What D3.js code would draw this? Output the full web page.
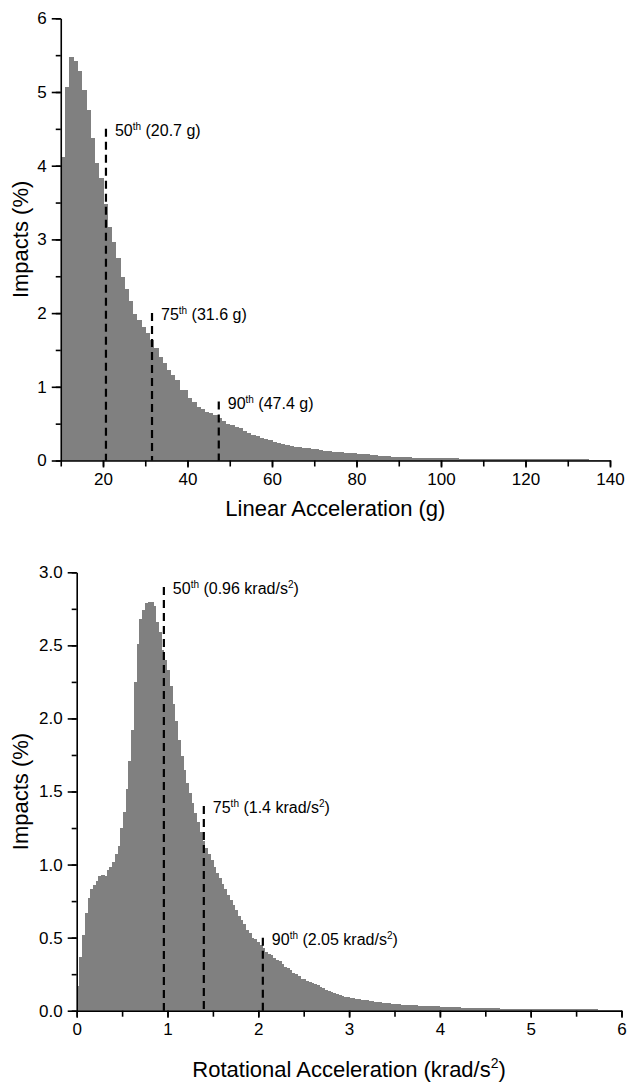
<!DOCTYPE html>
<html>
<head>
<meta charset="utf-8">
<script src="https://cdn.jsdelivr.net/npm/d3@7"></script>
<style>
	body { margin: 0; background: #fff; }
	svg { display: block; font-family: 'Liberation Sans', Arial, sans-serif; }
</style>
</head>
<body>
<div id="chart"></div>
<script>
const w = 628;
const h = 1084;

// linear acceleration: % of impacts per 1 g bin, first bin starts at 10 g
const linearBinStart = 10;
const linearBinWidth = 1;
const linearPct = [
	4.12, 5.07, 5.47, 5.42, 5.28, 5.03, 4.76, 4.38, 4.04, 3.83,
	3.48, 3.17, 2.97, 2.75, 2.49, 2.33, 2.16, 1.99, 1.91, 1.81,
	1.73, 1.63, 1.52, 1.40, 1.32, 1.23, 1.16, 1.09, 0.96, 0.95,
	0.85, 0.80, 0.73, 0.70, 0.66, 0.64, 0.62, 0.58, 0.53, 0.50,
	0.48, 0.46, 0.44, 0.40, 0.37, 0.35, 0.33, 0.30, 0.29, 0.28,
	0.25, 0.24, 0.225, 0.21, 0.2, 0.188, 0.178, 0.17, 0.165, 0.16,
	0.152, 0.142, 0.135, 0.128, 0.122, 0.115, 0.11, 0.106, 0.102, 0.097,
	0.092, 0.088, 0.082, 0.077, 0.07, 0.065, 0.06, 0.056, 0.053, 0.05,
	0.047, 0.044, 0.042, 0.04, 0.038, 0.036, 0.035, 0.034, 0.033, 0.032,
	0.031, 0.03, 0.029, 0.028, 0.027, 0.026, 0.025, 0.025, 0.024, 0.023,
	0.023, 0.022, 0.022, 0.021, 0.021, 0.02, 0.02, 0.02, 0.019, 0.019,
	0.018, 0.018, 0.018, 0.017, 0.017, 0.017, 0.016, 0.016, 0.016, 0.015,
	0.015, 0.015, 0.014, 0.014, 0.014, 0.013, 0.013, 0.012, 0.012, 0.012,
];
const linearXTicks = [10, 20, 30, 40, 50, 60, 70, 80, 90, 100, 110, 120, 130, 140];
const linearXLabels = [20, 40, 60, 80, 100, 120, 140];
const linearYTicks = [0, 0.5, 1, 1.5, 2, 2.5, 3, 3.5, 4, 4.5, 5, 5.5, 6];
const linearYLabels = [0, 1, 2, 3, 4, 5, 6];
const linearPctiles = ['50', '75', '90'];
const linearPctileVals = [20.7, 31.6, 47.4];
const linearPctileTops = [4.5, 2.0, 0.8];
const linearPctileNotes = [' (20.7 g)', ' (31.6 g)', ' (47.4 g)'];

// rotational acceleration: % of impacts per 0.03 krad/s^2 bin, from 0
const rotBinStart = 0;
const rotBinWidth = 0.03;
const rotPct = [
	0.17, 0.37, 0.52, 0.67, 0.77, 0.83, 0.86, 0.89, 0.92, 0.93,
	0.92, 0.96, 0.98, 1.02, 1.07, 1.13, 1.25, 1.36, 1.52, 1.71,
	1.92, 2.25, 2.51, 2.68, 2.74, 2.79, 2.80, 2.80, 2.77, 2.66,
	2.59, 2.47, 2.40, 2.33, 2.22, 2.10, 1.98, 1.85, 1.74, 1.65,
	1.56, 1.49, 1.42, 1.35, 1.29, 1.22, 1.16, 1.11, 1.07, 1.03,
	0.98, 0.94, 0.91, 0.87, 0.83, 0.79, 0.76, 0.72, 0.69, 0.65,
	0.62, 0.59, 0.55, 0.53, 0.50, 0.49, 0.47, 0.45, 0.43, 0.40,
	0.39, 0.38, 0.36, 0.35, 0.34, 0.32, 0.30, 0.29, 0.28, 0.26,
	0.25, 0.24, 0.22, 0.215, 0.205, 0.195, 0.19, 0.18, 0.175, 0.165,
	0.155, 0.145, 0.135, 0.125, 0.12, 0.115, 0.108, 0.1, 0.097, 0.092,
	0.089, 0.085, 0.082, 0.079, 0.076, 0.073, 0.07, 0.067, 0.064, 0.062,
	0.06, 0.058, 0.055, 0.053, 0.05, 0.048, 0.047, 0.045, 0.044, 0.042,
	0.041, 0.04, 0.039, 0.037, 0.036, 0.035, 0.035, 0.034, 0.033, 0.032,
	0.031, 0.03, 0.029, 0.028, 0.027, 0.026, 0.025, 0.024, 0.024, 0.023,
	0.022, 0.021, 0.021, 0.02, 0.02, 0.019, 0.019, 0.018, 0.018, 0.017,
	0.017, 0.017, 0.016, 0.016, 0.016, 0.015, 0.015, 0.015, 0.014, 0.014,
	0.014, 0.014, 0.013, 0.013, 0.013, 0.013, 0.012, 0.012, 0.012, 0.012,
	0.012, 0.011, 0.011, 0.011, 0.011, 0.011, 0.011, 0.01, 0.01, 0.01,
	0.01, 0.01, 0.01, 0.01, 0.009, 0.009, 0.009, 0.009, 0.009, 0.009,
	0.009, 0.008, 0.008, 0.008, 0.008, 0.008, 0.008, 0.007, 0.007, 0.007,
];
const rotXTicks = [0, 0.5, 1, 1.5, 2, 2.5, 3, 3.5, 4, 4.5, 5, 5.5, 6];
const rotXLabels = [0, 1, 2, 3, 4, 5, 6];
const rotYTicks = [0, 0.25, 0.5, 0.75, 1, 1.25, 1.5, 1.75, 2, 2.25, 2.5, 2.75, 3];
const rotYLabels = [0, 0.5, 1, 1.5, 2, 2.5, 3];
const rotPctiles = ['50', '75', '90'];
const rotPctileVals = [0.96, 1.4, 2.05];
const rotPctileTops = [2.9, 1.4, 0.5];
const rotPctileNotes = [' (0.96 krad/s', ' (1.4 krad/s', ' (2.05 krad/s'];

const svg = d3
	.select('#chart')
	.append('svg')
	.attr('width', w)
	.attr('height', h)
	.attr('viewBox', `0 0 ${w} ${h}`);

function drawPanel(p) {
	const x = d3.scaleLinear().domain(p.xDomain).range([p.left, p.right]);
	const y = d3.scaleLinear().domain(p.yDomain).range([p.bottom, p.top]);
	const g = svg.append('g');

	// bars (crisp edges so neighbouring bins don't show seams)
	g.append('g')
		.attr('shape-rendering', 'crispEdges')
		.selectAll('rect')
		.data(p.values)
		.enter()
		.append('rect')
		.attr('x', (d, i) => x(p.binStart + i * p.binWidth))
		.attr('width', (d, i) => x(p.binStart + (i + 1) * p.binWidth) - x(p.binStart + i * p.binWidth) + 0.6)
		.attr('y', d => y(d))
		.attr('height', d => y(0) - y(d))
		.attr('fill', '#808080');

	// percentile markers
	p.pctVals.forEach((v, i) => {
		g.append('line')
			.attr('x1', x(v))
			.attr('x2', x(v))
			.attr('y1', y(p.pctTops[i]))
			.attr('y2', y(0))
			.attr('stroke', '#000')
			.attr('stroke-width', 2.2)
			.attr('stroke-dasharray', '8,5');

		const t = g.append('text')
			.attr('x', x(v) + 9)
			.attr('y', y(p.pctTops[i]) + 7)
			.attr('font-size', 16)
			.attr('fill', '#000');
		t.append('tspan').text(p.pctNames[i]);
		t.append('tspan').attr('dy', -6).attr('font-size', 10).text('th');
		t.append('tspan').attr('dy', 6).text(p.pctNotes[i]);
		if (p.squared) {
			t.append('tspan').attr('dy', -6).attr('font-size', 10).text('2');
			t.append('tspan').attr('dy', 6).text(')');
		}
	});

	// axes: minor ticks without labels, then major ticks with labels
	const styleAxis = sel => {
		sel.attr('font-family', null).attr('font-size', null);
		sel.selectAll('path').attr('stroke', '#000').attr('stroke-width', 1.6);
		sel.selectAll('line').attr('stroke', '#000').attr('stroke-width', 1.6);
		sel.selectAll('text').attr('fill', '#000').attr('font-size', 17);
	};

	g.append('g')
		.attr('transform', `translate(0, ${p.bottom})`)
		.call(d3.axisBottom(x).tickValues(p.xTicks).tickSize(6).tickSizeOuter(0).tickFormat(''))
		.call(styleAxis);
	g.append('g')
		.attr('transform', `translate(0, ${p.bottom})`)
		.call(d3.axisBottom(x).tickValues(p.xLabels).tickSize(7).tickPadding(5).tickFormat(d3.format('d')))
		.call(styleAxis)
		.call(a => a.select('.domain').remove());

	g.append('g')
		.attr('transform', `translate(${p.left}, 0)`)
		.call(d3.axisLeft(y).tickValues(p.yTicks).tickSize(5).tickSizeOuter(0).tickFormat(''))
		.call(styleAxis);
	g.append('g')
		.attr('transform', `translate(${p.left}, 0)`)
		.call(d3.axisLeft(y).tickValues(p.yLabels).tickSize(9).tickPadding(5).tickFormat(p.yFormat))
		.call(styleAxis)
		.call(a => a.select('.domain').remove());

	// axis titles
	g.append('text')
		.attr('transform', `translate(28, ${(p.top + p.bottom) / 2}) rotate(-90)`)
		.attr('text-anchor', 'middle')
		.attr('font-size', 22)
		.text('Impacts (%)');

	const xt = g.append('text')
		.attr('x', (p.left + p.right) / 2)
		.attr('y', p.titleY)
		.attr('text-anchor', 'middle')
		.attr('font-size', 22);
	xt.append('tspan').text(p.xTitle);
	if (p.squared) {
		xt.append('tspan').attr('dy', -9).attr('font-size', 14).text('2');
		xt.append('tspan').attr('dy', 9).text(')');
	}
}

drawPanel({
	left: 60.75, right: 610, top: 18.3, bottom: 460.5,
	xDomain: [10, 140], yDomain: [0, 6],
	binStart: linearBinStart, binWidth: linearBinWidth, values: linearPct,
	xTicks: linearXTicks, xLabels: linearXLabels,
	yTicks: linearYTicks, yLabels: linearYLabels, yFormat: d3.format('d'),
	pctNames: linearPctiles, pctVals: linearPctileVals, pctTops: linearPctileTops, pctNotes: linearPctileNotes,
	squared: false,
	xTitle: 'Linear Acceleration (g)', titleY: 516,
});

drawPanel({
	left: 76.7, right: 621.5, top: 572.3, bottom: 1010.7,
	xDomain: [0, 6], yDomain: [0, 3],
	binStart: rotBinStart, binWidth: rotBinWidth, values: rotPct,
	xTicks: rotXTicks, xLabels: rotXLabels,
	yTicks: rotYTicks, yLabels: rotYLabels, yFormat: d3.format('.1f'),
	pctNames: rotPctiles, pctVals: rotPctileVals, pctTops: rotPctileTops, pctNotes: rotPctileNotes,
	squared: true,
	xTitle: 'Rotational Acceleration (krad/s', titleY: 1077,
});
</script>
</body>
</html>
